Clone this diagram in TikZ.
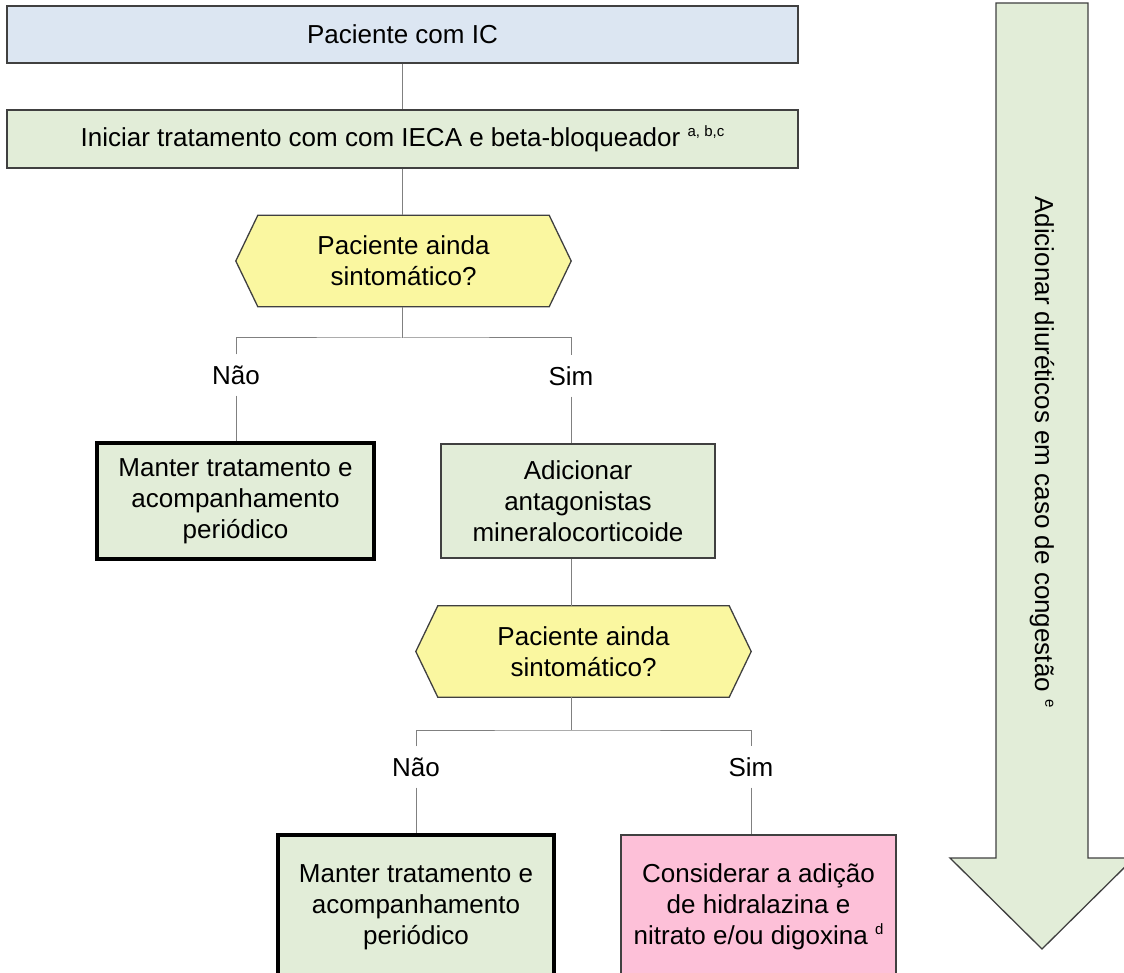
\documentclass[tikz,border=0pt]{standalone}
\usepackage{fontspec}
\setmainfont{Liberation Sans}
\usepackage{tikz}
\usetikzlibrary{backgrounds}
\definecolor{azul}{HTML}{DCE6F2}
\definecolor{verde}{HTML}{E2EDD8}
\definecolor{amarelo}{HTML}{FAF7A0}
\definecolor{rosa}{HTML}{FDC0D8}
\definecolor{borda}{HTML}{404040}
\definecolor{cinza}{HTML}{808080}
\newcommand\nota[1]{\raisebox{0.75ex}{\fontsize{15}{15}\selectfont #1}}

\begin{document}
\begin{tikzpicture}[x=1pt,y=-1pt,
	every node/.style={font=\fontsize{26}{31}\selectfont},
	caixa/.style={draw=borda,line width=1.3pt,align=center,inner sep=0pt},
	forte/.style={draw=black,line width=3.6pt},
	pergunta/.style={align=center,inner sep=0pt,minimum width=335pt,minimum height=91pt},
	rotulo/.style={fill=white,inner sep=0pt,minimum width=64pt,minimum height=41pt},
	fio/.style={draw=cinza,line width=1pt}]
	\useasboundingbox (0,0) rectangle (1124,973);
	\clip (0,0) rectangle (1124,973);
	
	\node[caixa,fill=azul,minimum width=791pt,minimum height=57pt] (paciente) at (402.5,34.5) {Paciente com IC};
	\node[caixa,fill=verde,minimum width=791pt,minimum height=58pt] (iniciar) at (402.5,139) {Iniciar tratamento com com IECA e beta-bloqueador \nota{a, b,c}};
	\node[pergunta] (pergunta1) at (403.5,261) {Paciente ainda\\sintomático?};
	\node[rotulo] (nao1) at (236,375) {Não};
	\node[rotulo] (sim1) at (571,376) {Sim};
	\node[caixa,forte,fill=verde,minimum width=277pt,minimum height=116pt] (manter1) at (235.5,501) {Manter tratamento e\\acompanhamento\\periódico};
	\node[caixa,fill=verde,minimum width=274pt,minimum height=114pt] (adicionar) at (578,501) {Adicionar\\antagonistas\\mineralocorticoide};
	\node[pergunta] (pergunta2) at (583.5,651.5) {Paciente ainda\\sintomático?};
	\node[rotulo] (nao2) at (416,767) {Não};
	\node[rotulo] (sim2) at (751,767) {Sim};
	\node[caixa,forte,fill=verde,minimum width=276pt,minimum height=144pt] (manter2) at (416,907) {Manter tratamento e\\acompanhamento\\periódico};
	\node[caixa,fill=rosa,minimum width=275pt,minimum height=144pt] (considerar) at (758.5,907) {Considerar a adição\\de hidralazina e\\nitrato e/ou digoxina \nota{d}};
	
	\begin{pgfonlayer}{background}
		\foreach \p in {pergunta1,pergunta2}{
			\draw[draw=borda,line width=1.3pt,fill=amarelo] (\p.west) -- ([xshift=22pt]\p.north west) -- ([xshift=-22pt]\p.north east) -- (\p.east) -- ([xshift=-22pt]\p.south east) -- ([xshift=22pt]\p.south west) -- cycle;
		}
	\end{pgfonlayer}
	
	\coordinate (ramo1) at (402,338);
	\coordinate (ramo2) at (571,730);
	\draw[fio] (paciente) -- (iniciar);
	\draw[fio] (iniciar.south) -- (iniciar.south |- pergunta1.north);
	\draw[fio] (pergunta1.south -| ramo1) -- (ramo1);
	\draw[fio] (adicionar.south -| ramo2) -- (pergunta2.north -| ramo2);
	\draw[fio] (pergunta2.south -| ramo2) -- (ramo2);
	\draw[fio] (nao1) |- (ramo1) -| (sim1);
	\draw[fio] (nao2) |- (ramo2) -| (sim2);
	\foreach \a/\b in {nao1/manter1, sim1/adicionar, nao2/manter2, sim2/considerar}{
		\draw[fio] (\a) -- (\a |- \b.north);
	}
	
	\draw[draw=borda,line width=1.3pt,fill=verde] (996,3) -- (1088,3) -- (1088,858) -- (1134,858) -- (1042,949) -- (950,858) -- (996,858) -- cycle;
	\node[rotate=-90] (diureticos) at (1042,452) {Adicionar diuréticos em caso de congestão \nota{e}};
\end{tikzpicture}
\end{document}
